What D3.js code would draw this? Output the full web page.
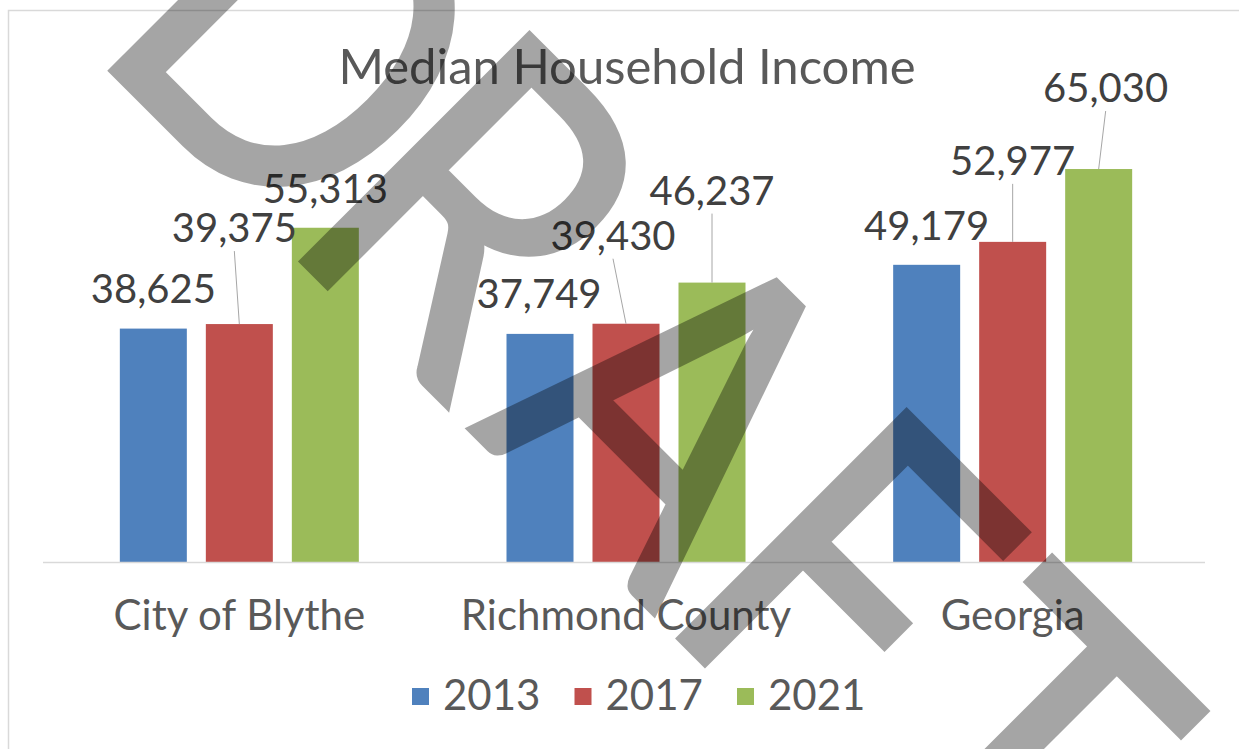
<!DOCTYPE html>
<html>
<head>
<meta charset="utf-8">
<script src="https://cdn.jsdelivr.net/npm/d3@7"></script>
<style>
  html, body { margin: 0; padding: 0; background: #ffffff; }
  svg { display: block; }
</style>
</head>
<body>
<svg id="chart" width="1239" height="749"></svg>
<script>
// ---- data ----
const categories = ["City of Blythe", "Richmond County", "Georgia"];
const seriesNames = ["2013", "2017", "2021"];
const values2013 = [38625, 37749, 49179];
const values2017 = [39375, 39430, 52977];
const values2021 = [55313, 46237, 65030];
const chartTitle = "Median Household Income";
const watermarkText = "DRAFT";

// ---- styling / layout ----
const colors = { "2013": "#4F81BD", "2017": "#C0504D", "2021": "#9BBB59" };
const fontFamily = "Lato, 'Open Sans', sans-serif";
// hand-placed label offsets (dx, dy) from each bar's top centre
const labelOffsets = {
  "2013": [[0, -26], [-1, -26], [0, -25]],
  "2017": [[-5, -82], [-13, -74], [0, -67]],
  "2021": [[0, -25], [0, -78], [7, -67]]
};
// watermark: glyph origins along its own (rotated, horizontally condensed) baseline
const watermarkGlyphX = [106, 416, 728, 1029, 1300];
const watermarkCondense = 0.87;

const seriesValues = { "2013": values2013, "2017": values2017, "2021": values2021 };
const rows = [];
seriesNames.forEach(s => {
  categories.forEach((c, i) => rows.push({ series: s, category: c, value: seriesValues[s][i], idx: i }));
});

const svg = d3.select("#chart");
const W = 1239, H = 749;

// chart frame
svg.append("rect")
  .attr("x", 8.5).attr("y", 10.5)
  .attr("width", W + 20).attr("height", H + 20)
  .attr("fill", "#ffffff")
  .attr("stroke", "#d9d9d9").attr("stroke-width", 1.5);

const baseY = 562;
const x0 = d3.scaleBand().domain(categories).range([46, 1206]).padding(0);
const x1 = d3.scaleBand().domain(seriesNames).range([-119.5, 119.5]).paddingInner(19 / 86).paddingOuter(0);
const y = d3.scaleLinear().domain([0, 70000]).range([baseY, 139]);

// title
svg.append("text")
  .attr("x", 627).attr("y", 84)
  .attr("text-anchor", "middle")
  .attr("font-family", fontFamily)
  .attr("font-size", 49)
  .attr("fill", "#595959")
  .text(chartTitle);

// bars
const barX = d => x0(d.category) + x0.bandwidth() / 2 + x1(d.series);
const barCX = d => barX(d) + x1.bandwidth() / 2;

svg.append("g").selectAll("rect")
  .data(rows)
  .join("rect")
  .attr("x", barX)
  .attr("y", d => y(d.value))
  .attr("width", x1.bandwidth())
  .attr("height", d => y(0) - y(d.value))
  .attr("fill", d => colors[d.series]);

// category axis
const xAxis = svg.append("g")
  .attr("transform", `translate(0,${baseY})`)
  .call(d3.axisBottom(x0).tickSize(0).tickPadding(0));
xAxis.select(".domain").attr("stroke", "#d9d9d9").attr("stroke-width", 1.5)
  .attr("d", "M43,0.5H1205");
xAxis.selectAll(".tick text")
  .attr("y", 68).attr("dy", 0)
  .attr("font-family", fontFamily)
  .attr("font-size", 42)
  .attr("fill", "#595959");

// data labels with leader lines
const fmt = d3.format(",");
const labelPos = d => {
  const o = labelOffsets[d.series][d.idx];
  return { x: barCX(d) + o[0], y: y(d.value) + o[1], far: o[1] < -40 };
};

svg.append("g").selectAll("line")
  .data(rows.filter(d => labelPos(d).far))
  .join("line")
  .attr("x1", d => labelPos(d).x)
  .attr("y1", d => labelPos(d).y + 9)
  .attr("x2", d => barCX(d))
  .attr("y2", d => y(d.value))
  .attr("stroke", "#a6a6a6")
  .attr("stroke-width", 1);

svg.append("g").selectAll("text")
  .data(rows)
  .join("text")
  .attr("x", d => labelPos(d).x)
  .attr("y", d => labelPos(d).y)
  .attr("text-anchor", "middle")
  .attr("font-family", fontFamily)
  .attr("font-size", 40)
  .attr("fill", "#404040")
  .text(d => fmt(d.value));

// legend
const legendX = d3.scalePoint().domain(seriesNames).range([412, 737]);
const legend = svg.append("g").selectAll("g")
  .data(seriesNames)
  .join("g")
  .attr("transform", s => `translate(${legendX(s)},0)`);
legend.append("rect")
  .attr("x", 0).attr("y", 688)
  .attr("width", 17).attr("height", 17)
  .attr("fill", s => colors[s]);
legend.append("text")
  .attr("x", 31).attr("y", 710)
  .attr("font-family", fontFamily)
  .attr("font-size", 42)
  .attr("fill", "#595959")
  .text(s => s);

// diagonal watermark across the whole chart
svg.append("g")
  .attr("opacity", 0.35)
  .append("text")
  .attr("transform", `translate(20,-20) rotate(45) scale(${watermarkCondense},1)`)
  .attr("x", watermarkGlyphX.join(" "))
  .attr("y", 0)
  .attr("font-family", fontFamily)
  .attr("font-size", 450)
  .attr("fill", "#000000")
  .attr("stroke", "#000000")
  .attr("stroke-width", 5)
  .attr("stroke-linejoin", "miter")
  .text(watermarkText);
</script>
</body>
</html>
